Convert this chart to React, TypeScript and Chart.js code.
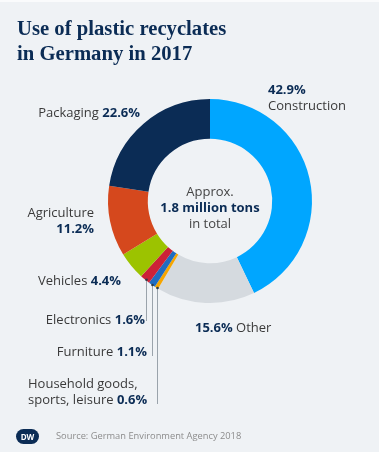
import React, { useEffect, useRef } from "react";
import { Chart, registerables } from "chart.js";

Chart.register(...registerables);

const categories = [
  "Construction",
  "Other",
  "Household goods, sports, leisure",
  "Furniture",
  "Electronics",
  "Vehicles",
  "Agriculture",
  "Packaging",
];
const shares = [42.9, 15.6, 0.6, 1.1, 1.6, 4.4, 11.2, 22.6];
const sliceColors = [
  "#00a6ff",
  "#d5dadf",
  "#f5a500",
  "#1f6cc0",
  "#cc2237",
  "#9cc300",
  "#d5481d",
  "#0b2c55",
];
// leader lines for the small slices: index -> label y (end of line)
const leaderIdx = [4, 3, 2];
const leaderEndY = [321, 356, 404];

const NAVY = "#0b2c55";
const TXT = "#3a3a3a";
const FONT = "'Open Sans', 'Noto Sans', sans-serif";

const leaderPlugin = {
  id: "leaders",
  afterDraw(chart: any) {
    const ctx = chart.ctx;
    const meta = chart.getDatasetMeta(0);
    ctx.save();
    leaderIdx.forEach((idx, k) => {
      const arc: any = meta.data[idx];
      const mid = (arc.startAngle + arc.endAngle) / 2;
      const r = arc.outerRadius - 1;
      const x = Math.round(arc.x + Math.cos(mid) * r) + 0.5;
      const y = arc.y + Math.sin(mid) * r;
      ctx.strokeStyle = "#9aa3ab";
      ctx.lineWidth = 1;
      ctx.beginPath();
      ctx.moveTo(x, y);
      ctx.lineTo(x, leaderEndY[k]);
      ctx.stroke();
      ctx.fillStyle = "#2b3a4a";
      ctx.beginPath();
      ctx.arc(x, y + 1, 1.3, 0, Math.PI * 2);
      ctx.fill();
    });
    ctx.restore();
  },
};

function Label(props: { style: React.CSSProperties; children: React.ReactNode }) {
  return (
    <div
      style={{
        position: "absolute",
        fontFamily: FONT,
        fontSize: 13,
        lineHeight: "16px",
        color: TXT,
        whiteSpace: "nowrap",
        ...props.style,
      }}
    >
      {props.children}
    </div>
  );
}

const B = (p: { children: React.ReactNode }) => (
  <b style={{ color: NAVY, fontWeight: 700 }}>{p.children}</b>
);

export default function App() {
  const ref = useRef<HTMLCanvasElement | null>(null);
  useEffect(() => {
    if (!ref.current) return;
    const chart = new Chart(ref.current, {
      type: "doughnut",
      data: {
        labels: categories,
        datasets: [
          {
            data: shares,
            backgroundColor: sliceColors,
            borderWidth: 0,
          },
        ],
      },
      options: {
        animation: false,
        responsive: false,
        cutout: "61%",
        layout: { padding: { left: 108, right: 67, top: 99, bottom: 149 } },
        plugins: { legend: { display: false }, tooltip: { enabled: false } },
      },
      plugins: [leaderPlugin],
    });
    return () => chart.destroy();
  }, []);

  return (
    <div
      style={{
        position: "fixed",
        left: 0,
        top: 0,
        width: 379,
        height: 452,
        background: "#eff2f5",
        borderTop: "2px solid #fafbfc",
        boxSizing: "border-box",
        overflow: "hidden",
      }}
    >
      <canvas
        ref={ref}
        width={379}
        height={452}
        style={{ position: "absolute", left: 0, top: -2, width: 379, height: 452 }}
      />
      <div
        style={{
          position: "absolute",
          left: 17,
          top: 14,
          fontFamily: "'Liberation Serif', 'DejaVu Serif', serif",
          fontWeight: 700,
          fontSize: 20.7,
          lineHeight: "25px",
          color: NAVY,
        }}
      >
        Use of plastic recyclates
        <br />
        in Germany in 2017
      </div>

      <Label style={{ left: 268, top: 79 }}>
        <B>42.9%</B>
        <br />
        Construction
      </Label>
      <Label style={{ right: 239, top: 102, textAlign: "right" }}>
        Packaging <B>22.6%</B>
      </Label>
      <Label style={{ right: 285, top: 202, textAlign: "right" }}>
        Agriculture
        <br />
        <B>11.2%</B>
      </Label>
      <Label style={{ right: 258, top: 270, textAlign: "right" }}>
        Vehicles <B>4.4%</B>
      </Label>
      <Label style={{ right: 234, top: 309, textAlign: "right" }}>
        Electronics <B>1.6%</B>
      </Label>
      <Label style={{ left: 195, top: 317 }}>
        <B>15.6%</B> Other
      </Label>
      <Label style={{ right: 232, top: 341, textAlign: "right" }}>
        Furniture <B>1.1%</B>
      </Label>
      <Label style={{ left: 28, top: 373 }}>
        Household goods,
        <br />
        sports, leisure <B>0.6%</B>
      </Label>

      <Label style={{ left: 0, width: 420, top: 181, textAlign: "center", color: "#444" }}>
        Approx.
        <br />
        <B>1.8 million tons</B>
        <br />
        in total
      </Label>

      <div
        style={{
          position: "absolute",
          left: 16,
          top: 427,
          width: 23,
          height: 15,
          borderRadius: 8,
          background: NAVY,
          color: "#fff",
          fontFamily: FONT,
          fontSize: 8,
          fontWeight: 700,
          lineHeight: "15px",
          textAlign: "center",
        }}
      >
        DW
      </div>
      <div
        style={{
          position: "absolute",
          left: 56,
          top: 427,
          fontFamily: FONT,
          fontSize: 9.3,
          lineHeight: "14px",
          color: "#8c8c8c",
          whiteSpace: "nowrap",
        }}
      >
        Source: German Environment Agency 2018
      </div>
    </div>
  );
}
